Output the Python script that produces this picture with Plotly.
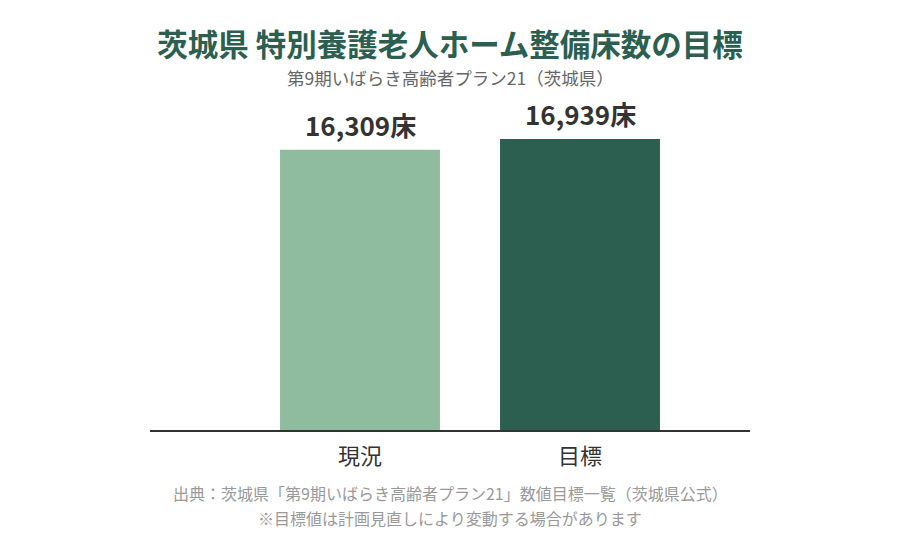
import plotly.graph_objects as go

# 茨城県 特別養護老人ホーム 整備床数
categories = ["現況", "目標"]
beds = [16309, 16939]
bar_colors = ["#8fbc9f", "#2c5f4f"]

title_text = "茨城県 特別養護老人ホーム整備床数の目標"
subtitle_text = "第9期いばらき高齢者プラン21（茨城県）"
source_text = "出典：茨城県「第9期いばらき高齢者プラン21」数値目標一覧（茨城県公式）"
note_text = "※目標値は計画見直しにより変動する場合があります"

FONT = "Noto Sans CJK JP"

fig = go.Figure()
fig.add_trace(go.Bar(
    x=[0, 1],
    y=beds,
    width=0.727,
    marker={'color': bar_colors, 'line': {'width': 0}},
    hoverinfo='skip',
))

# value labels above bars
for i, v in enumerate(beds):
    fig.add_annotation(
        x=i, y=v, xref='x', yref='y',
        text='<b>{:,}床</b>'.format(v),
        showarrow=False, yanchor='bottom', yshift=5,
        font={'size': 26, 'color': '#333333', 'family': FONT},
    )

fig.add_annotation(
    x=0.5, y=1.067, xref='paper', yref='paper',
    text=subtitle_text, showarrow=False, yanchor='middle',
    font={'size': 17.5, 'color': '#666666', 'family': FONT},
)
fig.add_annotation(
    x=0.5, y=-0.191, xref='paper', yref='paper',
    text=source_text, showarrow=False, yanchor='middle',
    font={'size': 16, 'color': '#999999', 'family': FONT},
)
fig.add_annotation(
    x=0.5, y=-0.267, xref='paper', yref='paper',
    text=note_text, showarrow=False, yanchor='middle',
    font={'size': 16, 'color': '#999999', 'family': FONT},
)

# page body has an 8px margin, so the figure is nudged up/left to compensate
fig.update_layout(
    width=900, height=550,
    margin={'l': 142, 'r': 158, 't': 92, 'b': 128},
    paper_bgcolor='white', plot_bgcolor='white',
    showlegend=False,
    font={'family': FONT},
    title={
        'text': '<b>' + title_text + '</b>',
        'x': (450 - 8) / 900, 'xanchor': 'center',
        'y': 1 - 37 / 550, 'yanchor': 'middle',
        'font': {'size': 30.5, 'color': '#2c5f4f', 'family': FONT},
    },
    xaxis={
        'range': [-0.9545, 1.7727],
        'tickvals': [0, 1],
        'ticktext': categories,
        'tickfont': {'size': 22, 'color': '#333333'},
        'ticks': '', 'ticklabelstandoff': 6,
        'showline': True, 'linecolor': '#333333', 'linewidth': 2,
        'showgrid': False, 'zeroline': False, 'fixedrange': True,
    },
    yaxis={
        'range': [0, 19210],
        'visible': False, 'showgrid': False, 'zeroline': False,
    },
)

fig.write_html("out.html")
